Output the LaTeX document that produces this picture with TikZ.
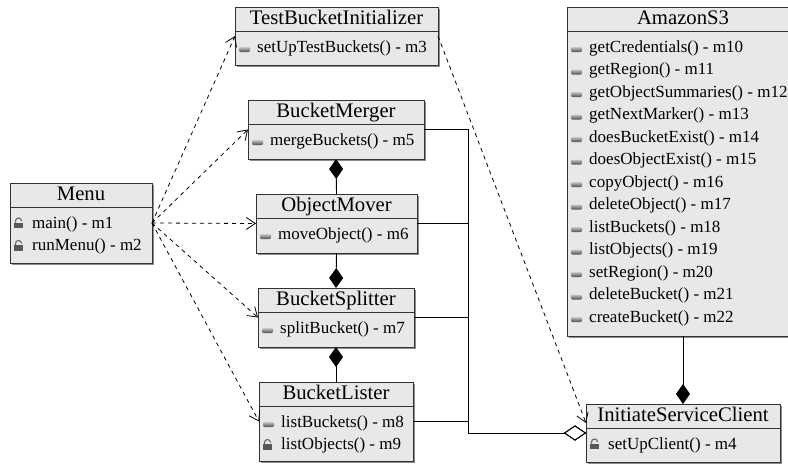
\documentclass[tikz,border=0pt]{standalone}
\usepackage{fontspec}
\setmainfont{Liberation Serif}
\usetikzlibrary{arrows.meta,calc,shadows}
\definecolor{boxfill}{HTML}{E8E8E8}
\definecolor{boxline}{HTML}{333333}
\tikzset{
  classbox/.style={draw=boxline, line width=0.9pt, fill=boxfill, anchor=north west,
    inner sep=0pt, outer sep=0pt,
    drop shadow={shadow xshift=2pt, shadow yshift=-2pt, fill=black!45, opacity=1}},
  classline/.style={draw=boxline, line width=0.9pt},
  titletext/.style={inner sep=0pt, font=\fontsize{20.7}{24}\selectfont, text height=14pt, text depth=5pt},
  methtext/.style={inner sep=0pt, anchor=west, font=\fontsize{17}{20}\selectfont, text height=12pt, text depth=4pt},
  dep/.style={draw=black, line width=0.8pt, dash pattern=on 4pt off 4pt, -{Straight Barb[length=9pt,width=12pt]}},
  comp/.style={draw=black, line width=0.9pt, {Diamond[length=20pt,width=14pt,fill=black]}-},
  agg/.style={draw=black, line width=0.9pt, -{Diamond[open,length=22pt,width=15pt,fill=white]}},
}
\newcommand{\umlclass}[6]{%
  \node[classbox, minimum width=#4pt, minimum height=#5pt] (#1) at (#2,#3) {};
  \draw[classline] ($(#1.north west)+(0,24)$) -- ($(#1.north east)+(0,24)$);
  \node[titletext] (#1-title) at ($(#1.north)+(0,12.5)$) {#6};
}
\newcommand{\privm}[4]{%
  \node[methtext] (#1-#2) at ($(#1.north west)+(22,41+22.5*#3)$) {#4};
  \shade[top color=gray!45, bottom color=black!70, rounded corners=1.2pt]
    ($(#1.north west)+(4,40+22.5*#3)$) rectangle ++(11,5);
}
\newcommand{\pubm}[4]{%
  \node[methtext] (#1-#2) at ($(#1.north west)+(22,41+22.5*#3)$) {#4};
  \fill[black!65] ($(#1.north west)+(4,39.5+22.5*#3)$) rectangle ++(9,5.5);
  \draw[black!60, line width=1.1pt] ($(#1.north west)+(5.5,39.5+22.5*#3)$) -- ++(0,-1.5)
    arc[start angle=180, end angle=0, radius=3pt];
}
\begin{document}
\begin{tikzpicture}[x=1pt, y=-1pt]
\useasboundingbox (0,0) rectangle (788,464);
\clip (0,0) rectangle (788,464);

\umlclass{menu}{10}{183}{142}{80}{Menu}
\pubm{menu}{m1}{0}{main() - m1}
\pubm{menu}{m2}{1}{runMenu() - m2}

\umlclass{tbi}{235}{7}{203}{58}{TestBucketInitializer}
\privm{tbi}{m3}{0}{setUpTestBuckets() - m3}

\umlclass{bm}{248}{100}{176}{59}{BucketMerger}
\privm{bm}{m5}{0}{mergeBuckets() - m5}

\umlclass{om}{256}{194}{161}{59}{ObjectMover}
\privm{om}{m6}{0}{moveObject() - m6}

\umlclass{bs}{258}{288}{156}{59}{BucketSplitter}
\privm{bs}{m7}{0}{splitBucket() - m7}

\umlclass{bl}{259}{382}{154}{79}{BucketLister}
\privm{bl}{m8}{0}{listBuckets() - m8}
\pubm{bl}{m9}{1}{listObjects() - m9}

\umlclass{isc}{586}{404}{194}{58}{InitiateServiceClient}
\pubm{isc}{m4}{0}{setUpClient() - m4}

\umlclass{s3}{567}{7}{232}{329}{AmazonS3}
\privm{s3}{m10}{0}{getCredentials() - m10}
\privm{s3}{m11}{1}{getRegion() - m11}
\privm{s3}{m12}{2}{getObjectSummaries() - m12}
\privm{s3}{m13}{3}{getNextMarker() - m13}
\privm{s3}{m14}{4}{doesBucketExist() - m14}
\privm{s3}{m15}{5}{doesObjectExist() - m15}
\privm{s3}{m16}{6}{copyObject() - m16}
\privm{s3}{m17}{7}{deleteObject() - m17}
\privm{s3}{m18}{8}{listBuckets() - m18}
\privm{s3}{m19}{9}{listObjects() - m19}
\privm{s3}{m20}{10}{setRegion() - m20}
\privm{s3}{m21}{11}{deleteBucket() - m21}
\privm{s3}{m22}{12}{createBucket() - m22}

% dependencies from Menu
\draw[dep] (menu.east) -- (tbi.west);
\draw[dep] (menu.east) -- (bm.west);
\draw[dep] (menu.east) -- (om.west);
\draw[dep] (menu.east) -- (bs.west);
\draw[dep] (menu.east) -- (bl.west);

\coordinate (iscin) at ($(isc.west)+(0,-10)$);
\draw[dep] (tbi.east) -- (iscin);

% compositions
\draw[comp] (bm.south) -- (om.north);
\draw[comp] (bs.north) -- (om.south);
\draw[comp] (bs.south) -- (bl.north);
\draw[comp] (isc.north) -- (isc.north |- s3.south);

% aggregations into InitiateServiceClient
\coordinate (bus) at ($(isc.west)+(-118,0)$);
\draw[agg] (bm.east) -| (bus) -- (isc.west);
\draw[agg] (om.east) -| (bus) -- (isc.west);
\draw[agg] (bs.east) -| (bus) -- (isc.west);
\draw[agg] (bl.east) -| (bus) -- (isc.west);
\end{tikzpicture}
\end{document}
